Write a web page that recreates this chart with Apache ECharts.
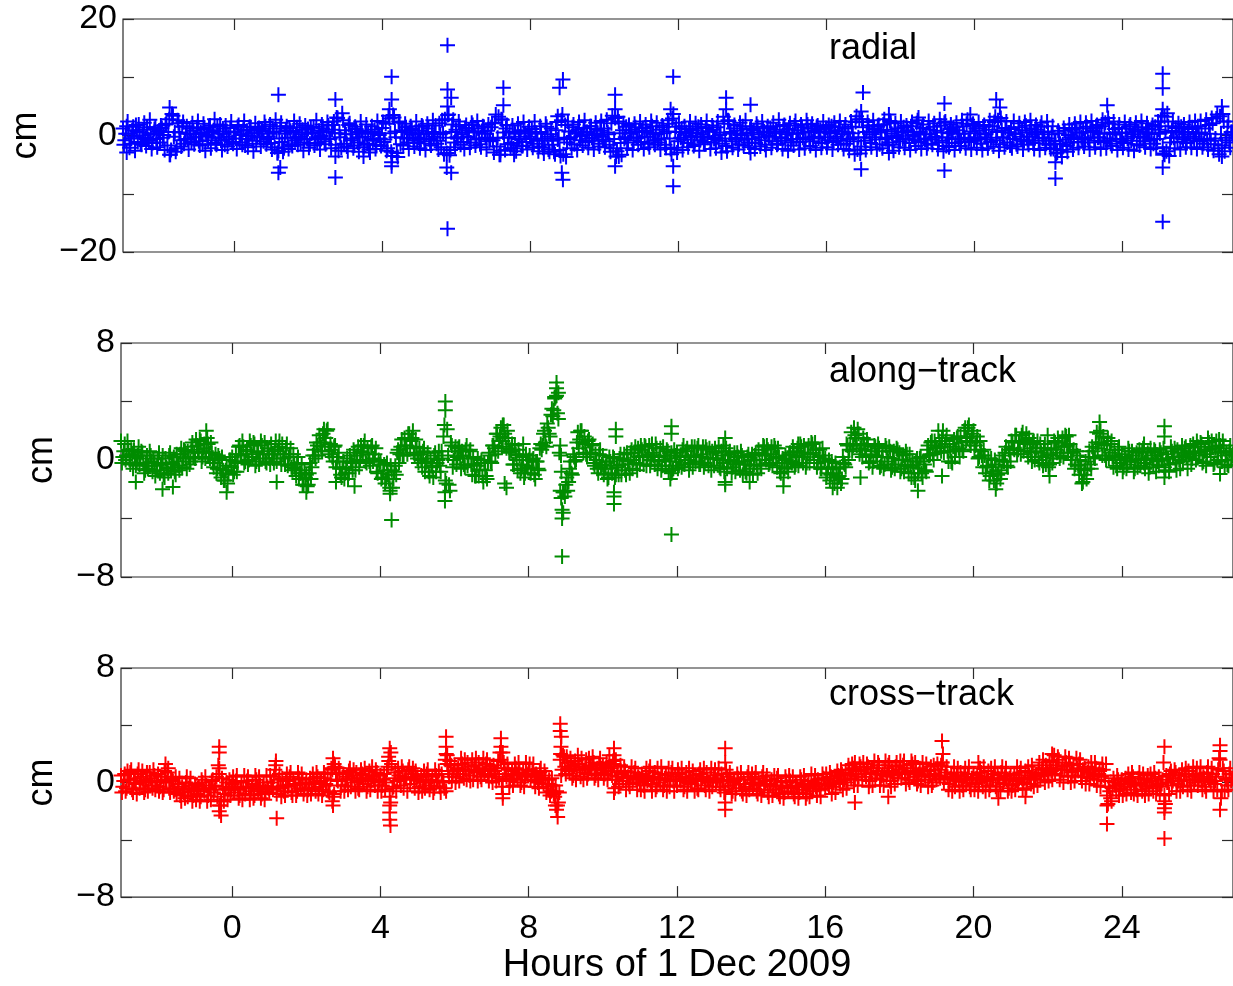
<!DOCTYPE html>
<html>
<head>
<meta charset="utf-8">
<title>Orbit differences, 1 Dec 2009</title>
<script src="https://cdn.jsdelivr.net/npm/echarts@6/dist/echarts.min.js"></script>
<style>
  html, body { margin: 0; padding: 0; background: #ffffff; }
  #chart { width: 1233px; height: 986px; }
</style>
</head>
<body>
<div id="chart"></div>
<script>
// Orbit differences in cm. Each component is stored as two interleaved streams:
// on-step epochs (startHour + i*stepHour) and half-step epochs (+ stepHour/2).
const startHour = -3;
const stepHour = 0.05;

const radialCm = [
  1.2,-0.8,1.6,0.3,-1.4,0.9,-0.2,1.8,-1.1,0.5,-1.6,1.0,-0.4,1.4,-0.9,0.2,-1.3,1.1,-0.6,0.7,
  -1.2,1.3,0.1,1.9,-1.7,2.8,-2.5,3.4,0.6,-2.2,2.1,-0.8,1.5,-1.4,0.3,-0.6,1.2,-1.1,0.8,-0.3,
  1.4,-1.0,0.5,-1.5,1.1,0.2,-0.8,1.7,-0.4,0.9,-1.3,1.6,0.3,-0.9,1.2,-1.6,0.7,-0.2,1.3,-1.1,
  0.6,-0.5,1.5,-1.2,0.2,1.0,-1.7,0.8,-0.1,1.4,-0.9,0.4,-1.4,1.1,-0.3,0.9,-1.0,1.6,-0.6,0.3,
  -1.3,1.2,-2.0,0.7,-2.6,1.6,-1.1,-2.2,0.9,-0.4,1.3,-1.5,0.6,-0.8,1.4,-0.2,-1.2,1.0,-0.7,0.5,
  1.1,-1.4,0.3,1.5,-0.6,-1.3,0.8,-0.1,1.2,-1.0,0.6,1.7,-0.5,1.0,2.4,-1.6,3.0,0.4,-2.1,2.6,
  0.9,-1.9,1.8,-0.8,0.2,-1.7,1.1,-1.2,-0.3,0.8,-2.0,0.4,-1.4,-2.4,0.6,-0.9,1.0,-1.6,0.3,-0.5,
  1.3,-1.1,2.0,-2.2,2.9,-2.8,3.5,0.7,-3.0,2.4,-1.5,0.9,-0.4,1.4,-1.2,0.5,1.1,-0.8,0.2,-1.3,
  0.8,-0.6,1.5,-1.0,0.3,1.2,-1.4,0.6,-0.2,1.7,-0.9,2.1,-2.0,0.4,2.8,-3.0,3.6,-2.5,1.9,-1.2,
  1.0,-0.5,1.6,0.2,-1.1,1.3,-0.3,0.9,-1.2,1.8,0.5,-0.7,1.2,-1.5,0.7,1.5,-0.4,0.8,-1.0,1.4,
  -0.8,2.2,-1.9,3.2,-2.6,2.7,-0.4,1.2,-1.5,0.6,-1.3,-2.2,0.3,-1.7,-0.6,0.9,-1.8,0.4,-1.1,0.7,
  -0.2,1.1,-1.4,0.5,-0.9,-1.9,0.6,-2.1,-0.5,1.5,-2.4,0.2,-1.6,-2.8,0.9,-0.7,-2.5,2.6,-3.2,1.8,
  -1.2,0.7,-0.3,1.4,-1.5,0.4,1.0,-0.8,0.2,1.3,-1.1,0.6,-0.5,1.6,-0.9,0.1,1.1,-1.4,0.8,-0.2,
  1.2,-1.0,0.5,-1.6,2.1,-2.2,3.0,-2.7,2.4,-1.3,0.9,-0.6,1.5,-1.2,0.3,1.0,-0.8,1.4,-0.4,0.6,
  -1.1,1.3,-0.2,0.8,-1.4,0.5,1.6,-0.9,0.2,-1.2,1.0,-0.5,1.4,-1.6,0.7,2.0,-2.3,2.9,-2.1,1.5,
  -1.0,0.6,1.2,-0.7,0.3,-1.3,1.1,-0.1,0.9,-1.5,0.4,1.5,-0.8,0.2,-1.1,1.3,-0.4,0.7,-1.2,1.0,
  -0.3,1.4,-0.9,0.5,-1.4,2.0,-1.8,2.6,0.3,-1.0,1.2,-0.6,0.8,-1.5,0.1,1.6,-0.7,0.4,-1.2,1.1,
  -0.5,0.9,-1.3,1.5,0.2,-0.8,1.2,-1.6,0.6,-0.2,1.3,-1.0,0.4,1.0,-1.4,0.7,-0.3,1.6,-0.9,0.5,
  1.1,-1.2,0.3,1.7,-0.6,0.9,-1.1,1.4,0.5,-0.7,1.9,-0.4,1.2,-1.0,0.8,1.5,-0.5,1.0,-1.3,0.6,
  1.3,-0.8,0.4,1.6,-1.1,0.9,-0.2,1.4,-0.9,0.7,1.2,-1.4,0.5,-0.6,1.5,-1.0,2.3,-2.4,2.8,-1.9,
  1.4,-0.9,0.6,1.7,-1.3,0.2,1.1,-0.7,1.5,-1.5,0.8,1.9,-0.4,1.0,-1.2,2.2,-1.6,0.7,-0.3,1.2,
  -1.0,0.5,1.4,-0.6,0.9,-1.3,1.6,0.1,-0.8,2.1,-1.1,0.6,1.3,-0.5,0.2,-1.4,1.0,-0.7,1.5,-0.2,
  0.8,-1.2,1.7,-0.9,2.2,-1.8,0.4,1.1,-0.6,1.4,-1.3,0.9,0.3,-1.0,1.6,-0.4,2.0,-1.1,0.7,1.8,
  -0.9,1.2,-0.3,0.8,-1.4,1.5,0.2,-0.7,1.0,-1.1,1.6,2.3,-0.8,2.6,-1.5,0.9,-0.4,1.3,-1.2,0.5,
  1.1,-0.6,0.3,-1.5,1.4,-0.2,0.9,-1.0,1.7,-0.8,0.5,1.2,-1.3,0.2,1.0,-0.9,1.5,-0.5,0.6,-1.4,
  0.7,-1.6,0.2,-2.3,-1.0,-2.9,0.4,-2.5,-1.5,0.8,-1.8,0.1,-1.2,1.0,-0.6,1.3,-1.1,0.5,-0.3,1.2,
  -0.7,1.5,-1.2,0.6,0.9,-0.9,1.3,-0.4,0.3,1.6,-1.1,2.2,-0.8,2.0,-1.4,0.5,1.1,-0.6,1.3,-1.0,
  0.4,-1.3,1.2,-0.5,1.6,-0.9,0.2,1.0,-1.5,0.7,-0.2,1.4,-1.0,0.5,1.1,-0.8,0.3,-1.4,1.5,-0.6,
  1.0,2.4,-2.0,3.2,-2.7,1.6,-1.2,0.8,-0.4,1.3,-1.1,0.6,1.5,-0.7,0.2,-1.3,1.1,-0.5,1.4,-0.9,
  0.5,1.6,-1.0,0.3,-1.4,1.2,-0.6,1.8,-0.9,2.1,-1.5,2.9,-2.2,3.3,-1.7,2.4,-0.8,1.5,-1.2,0.6,
  0.2
];

const radialCmHalfStep = [
  -1.6,0.3,2.4,-2.1,-0.5,1.5,-2.6,0.7,1.9,-1.3,0.0,2.2,-1.8,-0.6,2.7,-2.3,0.4,1.4,-2.0,0.8,
  1.7,-0.4,-2.5,2.0,0.6,-3.3,3.7,-0.2,-2.8,2.6,0.5,-1.9,2.3,-0.7,1.6,-2.4,0.2,2.1,-1.5,-0.3,
  2.5,-1.7,0.4,2.0,-2.6,-0.1,1.4,-2.2,0.6,2.8,-1.6,-0.4,1.9,-2.5,0.3,1.7,-1.9,-0.7,2.4,-1.4,
  0.5,-2.3,1.8,0.1,-1.6,2.5,-0.6,-2.0,1.5,0.4,-2.7,2.1,-0.3,1.3,-1.9,0.7,2.3,-1.5,-0.2,1.9,
  -2.4,0.6,2.7,-3.0,-0.5,2.2,-2.8,0.3,1.6,-2.3,0.8,-1.8,2.5,-0.4,-1.6,2.0,0.2,-2.6,1.7,-0.6,
  -2.1,1.4,0.5,-1.7,2.6,-0.3,-2.4,1.9,0.7,-1.5,2.3,-0.6,-2.2,1.8,0.4,3.1,-2.6,-0.3,3.8,-1.4,
  0.2,-2.7,2.1,-0.5,-2.2,1.5,0.6,-2.8,2.4,-0.2,-1.6,1.9,0.3,-2.9,1.6,-0.6,-2.3,2.5,0.1,-1.8,
  2.3,-0.7,-2.6,3.4,0.4,-3.5,3.1,-0.3,-3.7,2.2,0.6,-1.7,2.0,-0.5,-2.3,1.6,0.2,-1.9,2.4,-0.4,
  -2.2,1.7,0.3,-2.5,2.0,-0.6,-1.7,2.6,0.5,-1.4,-2.4,0.2,2.6,-3.2,-0.4,3.5,-3.4,0.6,2.7,-2.0,
  -0.3,2.4,-1.6,0.5,-2.3,1.8,-0.2,-2.1,2.2,0.7,-1.7,2.5,-0.5,-2.0,1.6,0.3,-2.4,1.9,-0.6,2.1,
  -2.9,3.6,-0.4,-3.3,2.8,0.5,-2.5,1.8,-0.3,-2.2,1.7,0.6,-2.7,2.0,-0.2,-1.8,2.3,0.4,-2.4,1.5,
  -0.6,-2.1,2.4,0.3,-2.7,1.6,-0.8,-3.1,2.0,-0.2,-2.8,1.2,-0.9,-3.2,2.3,-0.5,-3.5,3.6,-0.4,-3.7,
  2.4,-0.6,-2.2,1.9,0.4,-2.5,2.3,-0.1,-1.7,2.6,0.6,-2.1,1.6,-0.4,-2.4,2.2,0.3,-1.9,2.5,-0.7,
  -2.0,2.7,0.2,-2.8,3.4,-0.6,-3.6,3.2,0.4,-3.3,2.1,-0.3,-2.2,1.8,0.5,-2.5,2.0,-0.4,-1.6,2.4,
  0.6,-2.3,1.9,-0.2,-2.0,2.5,0.3,-1.6,2.2,-0.7,-2.4,1.7,0.4,-2.1,2.6,-0.5,-3.2,3.7,0.6,-2.9,
  2.2,-0.4,-2.5,1.6,0.6,-2.0,2.4,-0.3,-1.8,2.1,0.5,-2.6,1.9,-0.2,-1.5,2.5,0.7,-2.3,1.7,-0.6,
  -2.2,2.4,0.1,-2.9,3.2,-0.5,-2.7,2.5,0.6,-2.1,1.8,-0.4,-2.4,2.2,0.3,-1.7,2.6,-0.6,-2.0,1.5,
  0.5,-2.3,2.0,-0.3,-1.9,2.4,0.7,-2.5,1.6,-0.1,-2.1,2.2,0.4,-1.6,2.7,-0.5,-2.3,1.8,0.2,-2.6,
  2.1,-0.6,-1.7,2.5,0.3,-2.4,1.9,-0.4,-2.2,2.6,0.6,-1.8,2.0,-0.2,-2.5,1.7,0.5,-2.1,2.4,-0.3,
  -2.0,1.8,0.6,-2.4,2.2,-0.5,-1.6,2.5,0.2,-2.3,1.9,-0.6,-2.6,2.4,0.4,-3.2,3.3,-0.3,-3.1,2.8,
  -0.4,-2.5,2.3,0.7,-2.0,2.6,-0.3,-2.4,1.8,0.5,-2.2,2.8,-0.6,-1.7,2.5,0.3,-2.6,2.1,-0.1,-2.0,
  2.4,-0.5,-2.1,1.7,0.6,-2.5,2.3,-0.2,-1.8,2.6,0.4,-2.3,1.9,-0.7,-2.2,2.5,0.2,-1.6,2.1,-0.4,
  -2.3,2.8,0.5,-2.7,2.4,-0.3,-2.0,1.9,0.6,-2.5,2.2,-0.5,-1.8,2.6,0.3,-2.2,2.7,-0.6,-2.4,2.0,
  0.4,-2.1,2.3,-0.6,-2.5,1.8,0.2,-2.2,2.6,-0.4,-1.9,3.2,0.6,-2.6,3.0,-0.3,-2.0,2.4,0.5,-1.7,
  -2.2,2.5,0.3,-1.9,2.1,-0.7,-2.4,2.3,0.5,-1.6,2.6,-0.2,-2.3,1.8,0.6,-2.5,2.2,-0.4,-2.1,2.4,
  -0.5,-2.3,1.6,-0.9,-3.1,0.8,-1.4,-3.7,1.3,-0.7,-2.8,1.9,-0.3,-2.4,2.0,0.5,-2.1,2.3,-0.6,-1.9,
  2.2,-0.4,-2.4,2.5,0.6,-2.0,1.8,-0.3,-2.3,2.7,0.4,-2.2,3.0,-0.5,-1.8,2.4,0.2,-2.5,1.9,-0.6,
  -2.1,2.3,0.5,-2.4,1.9,-0.2,-2.6,2.2,0.7,-1.7,2.5,-0.4,-2.0,2.1,0.3,-2.3,1.8,-0.6,-2.2,2.4,
  0.3,3.4,-3.1,0.6,3.8,-3.5,-0.4,2.4,-2.2,0.5,2.1,-2.4,-0.3,1.9,-2.0,0.6,2.3,-2.1,-0.2,2.5,
  -2.3,0.4,2.5,-2.0,-0.6,2.7,-2.4,0.3,3.0,-2.6,-0.5,3.6,-3.2,0.2,3.7,-2.7,-0.4,2.4,-2.1,0.6
];

const alongTrackCm = [
  1.3,0.2,1.1,0.3,0.7,-0.3,0.4,0.7,-0.4,0.3,-0.3,0.6,-0.2,-0.7,0.3,-0.4,0.3,-0.8,-0.2,-0.7,
  0.1,-0.9,-0.2,-1.0,0.1,-0.6,0.3,-0.7,-0.3,-0.8,0.4,-0.4,0.4,-0.5,0.7,0.1,0.6,-0.3,0.9,0.2,
  0.1,1.0,0.5,1.3,0.2,1.1,0.6,1.1,0.1,0.5,-0.5,0.4,-0.6,0.1,-1.2,-0.7,-1.4,-0.4,-0.9,0.0,
  0.2,-0.8,0.4,-0.2,1.0,0.3,0.9,-0.1,0.7,0.0,1.0,0.2,1.1,-0.1,0.6,0.1,1.0,0.4,-0.1,0.8,
  0.1,1.1,0.1,0.7,-0.1,0.9,0.4,1.1,0.1,0.8,-0.4,0.4,-0.5,0.4,-0.6,-0.2,-1.3,-0.9,-1.7,-0.7,
  -1.0,-1.7,-0.2,-0.5,0.7,0.1,1.0,1.7,0.9,1.8,1.2,2.0,0.6,1.1,0.2,0.9,-0.5,0.2,-0.6,-1.2,
  -0.1,-0.9,0.1,-0.9,-0.1,-0.7,0.5,0.0,0.9,0.0,0.6,1.0,-0.1,0.8,-0.1,0.9,-0.1,0.4,-0.8,0.0,
  -0.1,-1.2,-0.3,-1.3,-1.0,-1.9,-0.7,-1.3,-0.4,0.5,-0.2,0.9,0.3,1.5,1.0,1.8,0.8,1.5,0.5,1.4,
  0.1,0.8,0.0,0.6,-0.8,-0.1,-0.8,0.1,-0.5,0.3,-0.8,0.0,-0.4,0.6,1.6,-1.4,2.1,-1.7,1.2,-0.5,
  0.6,-0.3,0.8,0.1,0.6,-0.3,0.7,-0.4,0.6,-0.3,0.2,-1.1,-0.4,-1.1,-0.2,-1.1,-0.2,-1.1,-0.2,0.3,
  -0.2,1.0,0.4,1.8,1.3,2.2,1.3,1.8,0.8,1.5,0.7,1.1,-0.3,0.4,-0.7,0.3,-0.6,0.2,-0.9,-0.4,
  0.0,-0.9,0.0,-1.0,-0.1,-0.6,0.8,0.7,1.8,1.2,2.5,1.8,3.1,3.0,4.2,4.4,2.8,-2.1,-3.4,-2.2,
  -1.7,-2.1,-0.6,-0.9,0.4,-0.1,1.2,0.8,2.0,1.2,1.6,0.4,1.3,0.5,1.0,-0.2,0.4,-0.6,0.4,-0.5,
  0.3,-0.6,-0.1,-1.2,-0.1,-0.9,0.1,-1.0,-0.4,0.1,-1.0,0.0,-0.7,0.5,-0.3,0.5,-0.6,0.5,-0.2,0.8,
  -0.3,0.7,-0.3,0.9,0.2,1.0,0.0,0.5,-0.3,0.8,-0.1,0.8,-0.4,0.3,-0.4,0.6,-0.1,0.5,-0.6,0.3,
  0.5,-0.4,0.2,0.7,-0.3,0.6,0.0,-0.2,0.9,0.3,-0.1,0.8,-0.3,0.4,0.9,-0.2,0.7,-0.4,0.1,0.6,
  -0.4,0.5,0.1,-0.5,0.6,-0.2,0.3,-0.6,0.4,0.0,-0.5,0.5,-0.3,0.2,-0.7,0.3,-0.1,-0.8,0.2,-0.6,
  0.0,-1.0,0.3,-0.3,0.7,-0.4,0.4,0.9,0.0,0.7,-0.2,0.9,0.1,0.8,-0.5,0.2,-0.9,0.1,-0.6,0.0,
  -0.8,0.5,-0.2,0.6,-0.3,0.8,0.2,0.9,-0.2,0.5,-0.2,1.0,0.4,1.1,0.0,0.7,-0.2,0.7,-0.6,0.3,
  0.1,-0.9,0.0,-1.0,-0.6,-1.6,-0.6,-1.2,-0.5,-1.3,-0.2,-0.5,1.0,0.7,1.9,1.0,1.7,1.0,1.8,0.8,
  0.2,1.1,0.3,1.1,-0.1,0.6,-0.1,0.9,0.2,0.8,-0.4,0.6,-0.3,0.8,-0.1,0.6,-0.5,0.6,-0.3,0.7,
  0.5,-0.6,0.3,-0.4,0.4,-0.9,-0.4,-0.1,-1.2,-0.1,-0.9,0.1,-0.9,-0.1,-0.7,0.7,0.3,1.2,0.4,1.3,
  0.8,2.0,0.9,1.5,0.5,1.3,0.6,1.1,-0.1,0.9,0.2,1.5,0.8,1.6,0.7,2.0,1.3,2.2,1.3,1.8,
  2.0,1.0,1.6,0.2,0.6,-0.5,0.3,-0.5,0.1,-1.1,-0.5,-1.4,-0.3,-1.0,0.0,-0.9,-0.1,0.5,-0.4,0.7,
  -0.1,1.2,0.7,1.7,0.7,1.3,1.7,0.6,1.4,0.6,1.5,0.5,1.2,0.0,0.8,0.0,1.1,0.2,0.8,-0.3,
  0.8,-0.3,0.7,0.1,1.2,0.5,1.2,0.3,1.5,0.9,1.6,0.5,1.1,0.0,0.7,-0.3,0.3,-1.0,-0.6,-1.5,
  -0.7,-1.3,0.2,-0.3,0.9,0.2,1.2,0.8,1.8,1.1,1.6,0.3,1.1,0.1,1.1,0.2,0.7,-0.4,0.7,-0.2,
  0.4,-0.5,0.2,-0.3,0.6,-0.1,0.3,-0.6,0.5,0.0,-0.4,0.6,-0.2,0.1,0.5,-0.5,0.3,-0.3,0.6,-0.1,
  -0.4,0.5,0.0,-0.5,0.4,0.1,-0.3,0.6,0.2,-0.2,0.7,0.0,0.5,-0.1,0.8,0.2,0.4,1.0,0.1,0.6,
  0.0,0.9,0.3,1.1,-0.1,0.7,0.4,1.2,0.2,0.9,-0.2,1.3,0.5,1.0,-0.1,0.8,0.3,-0.3,0.6,0.0,
  0.4
];

const alongTrackCmHalfStep = [
  -0.2,0.6,0.0,1.3,0.3,0.7,-0.6,0.2,-0.2,0.9,0.1,0.5,-0.9,-0.2,-0.6,0.6,-0.1,0.1,-1.1,-0.4,
  0.5,-0.3,0.3,-1.2,-0.5,-0.9,0.5,-0.2,0.2,-1.0,-0.1,-0.7,0.8,0.1,0.6,-0.6,0.2,-0.1,1.2,0.5,
  1.4,0.7,1.4,-0.1,0.8,0.1,1.5,0.5,1.2,-0.2,0.0,-0.9,0.3,-0.6,0.2,-1.4,-0.7,-1.6,0.0,-0.5,
  -1.0,-0.1,-0.8,0.9,0.4,1.3,-0.2,0.6,-0.3,1.3,0.4,1.2,-0.4,0.5,-0.3,1.3,0.4,1.2,-0.2,0.6,
  -0.3,0.4,-0.2,1.3,0.6,1.3,-0.3,0.4,-0.3,1.1,0.2,0.8,-0.7,-0.3,-1.1,0.2,-0.9,-0.3,-1.7,-1.2,
  -1.8,-0.9,-1.3,0.3,0.3,1.2,0.3,1.2,0.6,2.1,1.5,2.1,0.4,0.7,-0.1,1.0,-0.1,0.5,-1.0,-0.6,
  -1.3,-0.5,-1.3,0.3,-0.2,0.7,-0.7,0.3,-0.5,1.0,0.5,1.3,-0.2,0.4,-0.4,1.0,0.1,0.8,-0.9,-0.3,
  -1.3,-0.7,-1.6,-0.2,-1.3,-0.4,-1.9,-0.8,-1.0,0.7,0.4,1.4,0.3,1.0,0.4,1.8,1.3,2.0,0.3,0.9,
  -0.2,0.4,-0.5,0.8,-0.2,0.5,-1.1,-0.4,-1.2,0.5,-0.2,0.6,-0.8,0.1,2.4,-1.6,0.3,-2.1,1.0,0.0,
  0.9,0.2,0.9,-0.6,0.3,-0.5,1.0,0.1,0.7,-1.0,-0.3,-1.1,0.1,-0.7,0.0,-1.5,-0.7,-1.3,0.5,-0.1,
  1.0,0.8,1.8,0.6,1.6,0.9,2.4,1.5,2.0,0.5,0.6,-0.3,1.0,0.0,0.7,-0.9,-0.3,-1.2,0.4,-0.5,
  0.3,-0.6,0.1,-1.3,-0.1,-0.7,1.1,1.0,2.0,0.9,2.2,1.6,3.5,3.4,4.3,3.2,0.5,-2.6,-2.2,-2.5,
  -1.2,-1.5,-0.1,-1.0,0.2,0.0,1.9,1.4,2.0,0.5,1.1,0.2,1.4,0.5,1.1,-0.4,0.0,-0.9,0.7,-0.3,
  -1.0,-0.4,-1.3,0.2,-0.6,0.2,-1.2,-0.5,-1.0,0.4,-0.3,0.4,-1.0,-0.1,-0.9,0.7,0.0,0.9,-0.7,0.2,
  1.0,0.3,1.0,-0.4,0.4,-0.4,1.1,0.3,1.1,-0.6,0.2,-0.7,0.9,0.0,0.7,-0.8,0.1,-0.7,0.7,-0.1,
  -0.6,0.2,-0.5,1.0,0.3,0.8,-0.7,0.2,-0.5,0.9,0.3,1.0,-0.3,0.2,-0.5,0.9,0.1,0.8,-0.7,0.1,
  0.8,0.1,0.9,-0.6,0.0,-0.8,0.8,0.0,0.6,-0.9,-0.1,-0.8,0.5,-0.2,0.6,-1.0,-0.3,-0.9,0.4,-0.4,
  0.4,-0.3,0.5,-0.9,0.0,-0.6,1.0,0.3,1.0,-0.3,0.4,-0.4,1.0,0.2,0.8,-0.8,-0.2,-1.2,0.3,-0.5,
  0.4,-0.1,0.9,-0.5,0.3,-0.4,1.1,0.2,1.0,-0.5,0.4,-0.2,1.2,0.5,1.2,-0.5,0.2,-0.6,0.8,-0.1,
  -1.2,-0.5,-1.4,-0.1,-0.9,-0.2,-1.9,-1.1,-1.6,0.2,-0.3,1.1,0.0,1.1,0.6,2.2,1.5,2.1,0.4,1.0,
  1.5,0.7,1.4,-0.2,0.4,-0.5,1.0,0.3,1.1,-0.5,0.2,-0.6,1.0,0.2,0.9,-0.7,0.1,-0.6,0.8,0.0,
  -0.8,0.0,-0.8,0.6,-0.3,0.4,-1.2,-0.5,-1.4,0.1,-0.6,0.2,-1.2,-0.3,-0.8,1.0,0.4,1.3,0.0,1.0,
  0.5,1.3,0.6,2.0,1.1,1.7,-0.1,0.6,-0.2,1.4,0.7,1.6,0.2,1.2,0.6,2.2,1.5,2.4,1.0,1.6,
  0.7,1.2,0.1,1.3,0.3,0.7,-0.9,-0.4,-1.4,0.1,-0.8,0.0,-1.6,-0.7,-1.3,0.3,-0.1,0.9,-0.5,0.5,
  1.3,0.8,1.7,0.4,1.2,0.4,1.9,1.1,1.8,0.2,0.8,-0.1,1.3,0.6,1.3,-0.2,0.5,-0.4,1.1,0.3,
  -0.5,0.4,-0.2,1.3,0.7,1.5,0.1,0.9,0.2,1.7,1.0,1.7,0.0,0.5,-0.6,0.6,-0.4,0.0,-1.6,-1.0,
  -0.1,-0.6,0.6,-0.6,0.6,0.1,1.9,1.2,2.0,0.3,1.0,0.0,1.5,0.5,1.3,-0.5,0.3,-0.6,0.9,0.0,
  -0.8,0.1,-0.6,0.8,-0.1,0.6,-0.8,0.0,-0.5,0.7,0.1,0.8,-0.6,0.0,-0.9,0.8,0.1,0.7,-0.8,0.0,
  0.7,0.0,0.8,-0.7,0.1,-0.8,0.9,0.2,0.8,-0.7,0.2,-0.6,1.0,0.3,0.9,-0.6,0.4,-0.3,1.1,0.5,
  1.3,0.5,1.2,-0.2,0.6,-0.4,1.5,0.7,1.3,-0.3,0.8,0.0,1.4,0.6,1.3,-0.5,0.5,-0.4,1.0,0.3
];

const crossTrackCm = [
  0.5,-0.3,0.6,-0.4,0.2,0.7,-0.5,0.3,-0.1,0.6,-0.4,0.4,0.0,-0.5,0.7,-0.2,0.3,-0.4,0.5,0.1,
  0.6,-0.3,0.4,-0.5,0.2,0.7,-0.4,0.3,0.1,-0.5,-0.8,-0.1,-0.9,-0.3,-0.7,0.0,-1.0,-0.2,-0.6,-0.9,
  -0.1,-0.8,-0.3,-1.0,0.0,-0.6,-0.2,-0.9,-0.4,0.1,-0.7,-0.2,-1.0,0.6,-1.3,-0.3,-0.8,0.0,-0.5,-0.9,
  -0.1,-0.7,0.1,-0.5,-0.9,0.0,-0.4,-0.8,0.1,-0.3,-0.6,-0.1,-0.9,0.2,-0.5,-0.2,-0.8,0.0,-0.6,-0.3,
  -0.7,0.0,-0.5,0.9,-0.8,0.2,-0.4,0.3,-0.6,0.1,-0.3,0.4,-0.7,0.2,-0.2,-0.6,0.3,-0.4,0.0,-0.5,
  0.2,-0.5,0.3,-0.4,0.0,-0.6,0.4,-0.3,0.1,-0.5,0.3,-0.2,-0.6,0.2,0.9,-0.8,0.6,0.1,0.7,-0.2,
  0.6,-0.2,0.4,0.8,-0.3,0.5,0.0,0.7,-0.4,0.3,0.6,-0.1,0.5,-0.3,0.8,0.1,0.4,-0.2,0.7,0.0,
  0.5,-0.2,0.6,0.0,1.1,-1.0,1.3,-0.3,0.7,0.1,0.5,-0.2,0.8,0.2,0.4,0.9,-0.1,0.6,0.3,0.8,
  0.4,-0.3,0.5,0.0,-0.4,0.6,0.2,-0.2,0.4,-0.4,0.5,0.1,-0.3,0.6,0.0,1.6,1.3,0.4,1.2,0.6,
  1.2,0.4,1.0,0.6,1.3,0.3,0.9,1.4,0.5,1.1,0.2,1.2,0.7,1.4,0.4,1.0,0.6,1.3,0.5,1.1,
  0.4,1.2,0.6,1.0,0.3,1.6,0.2,1.0,0.4,0.9,0.1,0.8,0.3,1.0,0.2,0.7,0.0,0.9,0.4,0.6,
  0.9,0.2,0.8,0.1,0.6,0.0,0.7,0.3,-0.1,0.5,-0.3,0.2,-0.6,-0.2,-1.0,-0.6,-1.4,1.6,0.9,1.8,
  0.6,1.4,0.8,1.2,0.5,1.5,0.9,1.3,0.4,1.1,0.7,1.6,0.6,1.2,0.9,1.4,0.5,1.0,1.3,0.7,
  1.2,0.6,1.4,0.8,1.1,0.5,1.3,0.2,0.7,-0.1,0.6,0.1,0.8,0.3,-0.1,0.5,0.0,0.7,0.2,0.4,
  0.0,0.6,-0.2,0.5,0.1,0.8,-0.1,0.4,0.7,-0.3,0.3,0.0,0.6,-0.2,0.5,0.2,-0.3,0.7,0.1,0.4,
  -0.2,0.6,0.1,0.4,-0.3,0.7,0.0,0.3,-0.1,0.5,0.2,-0.4,0.6,0.1,0.4,-0.2,0.7,0.0,0.3,-0.3,
  0.5,0.0,0.3,-0.3,0.6,0.1,-0.5,0.4,-0.2,0.2,-0.6,0.1,-0.4,0.3,-0.1,-0.6,0.2,-0.3,0.4,-0.5,
  0.2,-0.4,0.3,-0.6,0.0,-0.2,0.4,-0.5,0.1,-0.7,-0.1,0.2,-0.5,-0.2,0.3,-0.8,0.0,-0.4,-0.7,0.1,
  -0.6,0.1,-0.4,-0.8,0.0,-0.3,-0.7,0.2,-0.5,-0.1,-0.8,0.1,-0.4,-0.6,0.0,-0.3,0.2,-0.5,-0.1,0.3,
  -0.4,0.2,-0.2,0.4,-0.3,0.3,0.0,0.5,-0.1,0.6,0.2,0.7,0.0,0.9,0.3,1.0,0.2,0.8,0.4,1.1,
  0.2,0.9,0.4,1.1,0.1,0.7,1.0,0.3,0.8,1.2,0.2,0.6,1.0,0.4,1.2,0.1,0.8,0.5,1.1,0.3,
  0.9,0.3,1.2,0.6,1.0,0.2,0.8,1.3,0.4,0.7,0.1,1.0,0.5,0.9,0.2,0.8,0.4,1.1,0.0,0.6,
  0.2,0.9,0.3,1.4,0.0,0.7,0.4,-0.1,0.6,0.2,-0.3,0.5,0.1,0.7,-0.2,0.4,0.0,0.6,-0.3,0.3,
  0.6,-0.1,0.5,0.0,0.7,-0.3,0.4,0.1,0.8,-0.2,0.3,0.6,-0.3,0.5,0.0,0.7,-0.1,0.4,0.2,-0.4,
  0.5,-0.2,0.6,0.1,-0.1,0.7,0.3,0.0,0.8,0.2,0.5,-0.1,0.7,0.3,0.6,0.9,0.2,1.0,0.5,1.2,
  0.7,1.5,0.8,1.4,0.6,1.2,1.6,0.5,1.1,0.9,1.4,0.4,1.2,0.7,1.3,0.5,1.0,1.3,0.4,0.9,
  1.0,0.4,1.1,0.3,0.9,0.5,1.0,0.2,0.8,0.4,0.9,0.1,-0.9,-0.3,-1.1,-0.4,0.0,-0.6,0.2,-0.4,
  0.2,-0.5,0.3,-0.3,0.1,-0.7,0.4,-0.1,-0.5,0.3,0.0,-0.6,0.2,-0.3,0.5,-0.4,0.1,-0.6,0.3,-0.2,
  0.4,-0.3,0.2,-0.9,0.5,0.0,0.6,-0.2,0.3,0.7,-0.1,0.5,0.1,-0.3,0.6,0.2,0.8,-0.2,0.4,0.0,
  0.5,-0.2,0.6,0.1,0.4,-0.3,0.7,0.2,0.0,0.6,-0.1,0.4,0.9,1.6,-0.6,0.8,0.3,-0.2,0.6,0.1,
  0.3
];

const crossTrackCmHalfStep = [
  -0.7,0.1,-0.6,0.8,0.2,0.9,-0.7,0.0,-0.8,0.9,0.1,0.8,-0.7,0.2,-0.6,0.7,0.0,0.9,-0.5,0.1,
  -0.6,0.1,-0.7,0.8,0.0,1.0,-0.7,0.2,-0.6,0.4,-0.4,0.3,-1.3,-0.5,-1.1,0.4,-0.4,0.3,-1.3,-0.5,
  -1.2,-0.4,-1.3,0.2,-0.5,0.4,-1.3,-0.4,-1.2,0.2,-0.5,0.4,1.2,-1.6,0.3,-1.3,-0.4,-1.2,0.2,-0.5,
  0.4,-0.3,0.5,-1.1,-0.4,-1.2,0.5,-0.3,0.4,-1.2,-0.4,-1.1,0.5,-0.3,0.4,-1.1,-0.3,-1.2,0.5,-0.4,
  0.5,-0.3,0.4,1.2,-0.3,0.6,-1.0,-0.2,-0.9,0.6,-0.2,0.7,-0.9,-0.1,-0.9,0.7,-0.1,0.6,-0.8,-0.1,
  -0.9,-0.1,-0.8,0.6,-0.1,0.7,-0.8,0.0,-0.9,0.7,-0.1,0.6,-0.7,1.0,-1.0,1.1,0.2,1.0,-0.6,0.2,
  -0.6,0.2,-0.5,1.0,0.3,0.9,-0.6,0.1,-0.5,0.9,0.2,1.0,-0.6,0.3,-0.5,1.1,0.2,0.9,-0.6,0.1,
  -0.6,0.2,-0.5,0.9,1.5,-1.4,-0.4,0.3,-0.6,1.0,0.2,1.1,-0.4,0.3,-0.6,1.1,0.3,1.0,-0.4,0.2,
  -0.7,0.1,-0.6,0.8,0.2,0.9,-0.5,0.0,-0.7,0.9,0.1,0.8,-0.7,0.1,-0.4,2.0,0.8,1.5,0.1,0.8,
  0.0,0.9,0.1,1.7,0.8,1.6,0.2,0.9,0.1,1.6,0.8,1.7,0.1,0.9,0.2,1.7,0.8,1.6,0.1,0.9,
  0.0,0.8,0.1,1.5,2.1,-0.3,1.4,0.6,1.3,-0.3,0.5,-0.2,1.3,0.6,1.4,-0.2,0.5,-0.3,1.4,0.5,
  1.3,0.5,1.3,-0.3,0.4,-0.4,1.0,0.2,0.8,-0.7,-0.1,-0.9,0.3,-0.8,-0.2,-1.6,-0.7,0.5,1.9,1.1,
  1.8,1.0,1.7,0.3,1.1,0.2,1.9,0.9,1.7,0.2,1.0,0.3,1.7,1.1,1.8,0.3,0.9,0.2,1.7,1.0,
  0.3,1.0,0.2,1.9,1.0,1.5,-0.4,0.4,-0.3,1.2,0.3,1.1,-0.5,0.4,-0.3,1.1,0.3,1.0,-0.5,0.3,
  -0.5,0.3,-0.6,1.0,0.2,1.1,-0.6,0.3,-0.5,1.0,0.2,1.1,-0.5,0.3,-0.6,1.0,0.2,1.0,-0.6,0.2,
  0.9,0.2,1.0,-0.5,0.3,-0.6,1.0,0.1,0.8,-0.6,0.2,-0.5,0.9,0.3,1.0,-0.5,0.2,-0.6,1.0,0.1,
  0.9,0.2,1.0,-0.5,0.1,-0.7,0.9,0.1,0.7,-0.8,0.0,-0.8,0.6,-0.1,0.7,-0.8,-0.1,-0.9,0.7,0.0,
  0.6,-0.1,0.7,-0.8,-0.2,-0.9,0.7,-0.1,0.5,-1.0,-0.2,-0.9,0.5,-0.3,0.5,-1.0,-0.2,-1.1,0.4,-0.3,
  0.5,-0.3,0.4,-1.0,-0.2,-1.1,0.4,-0.3,0.5,-1.1,-0.2,-1.0,0.6,-0.2,0.5,-0.9,-0.1,-1.0,0.6,-0.1,
  0.6,-0.1,0.7,-0.8,0.0,-0.7,0.8,0.1,0.9,-0.5,0.2,-0.4,1.2,0.5,1.3,-0.2,0.6,-0.2,1.3,0.6,
  1.4,0.6,1.3,-0.3,0.7,-0.2,1.5,0.6,1.4,-0.2,0.5,-0.2,1.5,0.7,1.4,-0.3,0.6,-0.1,1.4,0.6,
  1.5,0.7,1.5,-0.1,0.6,0.0,1.5,0.7,1.4,-0.1,0.6,-0.2,1.4,0.5,1.3,-0.3,0.5,-0.2,1.2,0.5,
  1.3,0.5,1.2,2.0,0.4,1.1,-0.5,0.3,-0.6,1.1,0.2,1.0,-0.6,0.3,-0.5,1.0,0.2,1.1,-0.5,0.3,
  -0.5,0.3,-0.6,1.0,0.2,1.1,-0.6,0.3,-0.5,1.0,0.2,1.1,-0.5,0.3,-0.6,1.1,0.2,1.0,-0.6,0.3,
  -0.6,0.2,-0.5,1.1,0.3,1.0,-0.5,0.3,-0.4,1.1,0.3,1.2,-0.3,0.4,-0.2,1.4,0.6,1.6,0.0,0.9,
  0.1,1.0,0.2,1.9,1.0,1.8,0.2,0.9,0.0,1.8,0.9,1.7,0.0,0.8,0.1,1.7,0.8,1.6,0.1,0.8,
  -0.1,0.7,-0.1,1.4,0.6,1.4,-0.2,0.6,-0.3,1.3,0.5,1.3,-1.5,-0.6,-1.3,0.3,-0.2,0.5,-0.9,-0.1,
  -0.9,-0.1,-0.8,0.6,0.0,0.7,-0.8,-0.2,-0.9,0.7,-0.1,0.6,-0.9,0.0,-0.8,0.6,-0.2,0.7,-0.8,-0.1,
  -0.8,-0.1,1.4,-1.5,0.0,-0.8,0.8,0.1,0.9,-0.6,0.1,-0.6,0.9,0.2,1.0,-0.5,0.2,-0.6,1.1,0.2,
  1.0,0.2,1.1,-0.5,0.3,-0.6,1.1,0.2,1.0,-0.6,0.1,-0.5,1.7,-1.1,1.0,-0.6,0.2,-0.5,1.0,0.3
];

// Isolated epochs away from the main band: [hour, cm]
const radialOutliers = [
  [-2.9,-2.9],[-1.74,4.8],[-1.74,-3.3],[1.2,7.0],[1.25,-5.5],[1.2,-6.4],[1.18,-3.0],
  [2.74,6.2],[2.74,-7.2],[2.74,-3.6],[3.5,-3.6],[4.26,10.1],[4.26,6.2],[4.2,4.5],
  [4.26,-4.6],[4.26,-5.3],[5.77,15.5],[5.77,7.9],[5.87,6.5],[5.77,5.0],[5.75,-5.5],
  [5.87,-6.4],[5.77,-16.0],[7.28,8.2],[7.28,5.2],[7.57,-3.3],[7.2,-3.3],[8.89,9.6],
  [8.8,8.2],[8.86,-6.4],[8.89,-7.6],[8.75,3.3],[10.3,7.0],[10.3,4.5],[10.3,-5.3],
  [10.4,-3.6],[11.87,10.1],[11.8,4.5],[11.87,-5.3],[11.87,-8.7],[13.3,6.5],[13.3,4.5],
  [13.96,5.3],[13.96,-3.0],[17.0,7.4],[16.95,4.1],[16.95,-5.8],[17.7,3.6],[17.7,-3.0],
  [18.5,3.1],[19.2,5.5],[19.2,-6.0],[19.9,3.6],[20.6,6.2],[20.7,4.8],[22.2,-4.6],
  [22.2,-7.4],[23.6,5.2],[25.1,10.6],[25.1,8.1],[25.1,4.5],[25.15,-3.3],[25.1,-5.5],
  [25.1,-14.8],[26.7,5.0],[26.7,-3.6]
];

const alongTrackOutliers = [
  [-2.6,-1.5],[-1.88,-2.0],[-1.6,-1.85],[-0.7,2.0],[-0.15,-2.2],[1.2,-1.5],[2.0,-2.2],
  [2.8,-1.5],[3.3,-1.8],[4.26,-2.3],[4.26,-2.1],[4.3,-4.1],[5.75,4.0],[5.75,3.4],
  [5.74,-2.2],[5.74,-2.8],[7.3,2.4],[7.35,-1.6],[7.4,-1.9],[7.85,1.1],[8.75,5.3],
  [8.75,4.9],[8.8,4.6],[8.7,4.3],[8.85,1.0],[8.87,0.3],[8.88,-0.8],[8.9,-4.0],
  [8.93,-3.6],[8.9,-6.6],[10.35,2.1],[10.35,1.6],[10.3,-2.2],[10.3,-2.5],[10.3,-3.0],
  [11.85,2.3],[11.85,1.8],[11.85,-0.9],[11.82,-1.3],[11.85,-5.1],[13.3,1.5],[13.25,1.0],
  [13.3,-1.5],[13.3,-1.7],[13.96,-1.5],[14.87,-1.8],[15.27,1.1],[16.2,-1.9],[16.95,-1.2],
  [18.5,-2.1],[19.15,-1.1],[20.6,-2.0],[22.0,1.7],[22.05,-1.1],[23.4,2.6],[24.6,1.1],
  [25.15,2.3],[25.15,1.6],[25.15,-1.2],[26.65,-0.95]
];

const crossTrackOutliers = [
  [-1.8,1.3],[-0.35,2.5],[-0.35,2.1],[-0.35,1.0],[-0.35,-2.0],[-0.3,-2.3],[-0.35,-1.6],
  [1.18,1.5],[1.2,-2.5],[2.72,1.7],[2.75,1.3],[2.7,-1.3],[2.72,-1.6],[4.25,2.4],
  [4.22,1.8],[4.28,2.1],[4.25,-1.6],[4.25,-2.1],[4.25,-2.6],[4.27,-3.0],[5.77,3.2],
  [5.77,2.5],[5.8,1.9],[5.77,-0.6],[7.25,3.1],[7.25,2.5],[7.3,2.1],[7.3,-0.8],[7.3,-1.1],
  [8.75,-1.9],[8.78,-2.4],[8.72,-1.6],[8.85,4.1],[8.85,3.6],[8.88,3.2],[8.87,2.5],
  [8.86,2.0],[10.3,2.4],[10.3,1.9],[10.35,1.6],[10.3,-0.7],[13.3,2.4],[13.3,1.4],
  [13.3,-1.9],[13.3,-1.4],[16.8,1.4],[16.8,-1.4],[17.7,-1.0],[19.15,2.9],[19.15,1.4],
  [20.13,1.4],[20.67,-1.1],[21.4,-1.0],[22.12,2.0],[23.6,-2.9],[23.6,-1.6],[25.15,2.5],
  [25.15,-1.3],[25.15,-1.8],[25.15,-2.1],[25.15,-3.9],[26.65,2.6],[26.65,2.2],[26.65,-1.9]
];

// Axis ticks and labels
const hourTicks = [0, 4, 8, 12, 16, 20, 24];
const radialTicks = [-20, -10, 0, 10, 20];
const radialLabels = [-20, 0, 20];
const trackTicks = [-8, -4, 0, 4, 8];
const trackLabels = [-8, 0, 8];
const panelTitles = ['radial', 'along\u2212track', 'cross\u2212track'];
const xTitle = 'Hours of 1 Dec 2009';
const yTitle = 'cm';

const FONT = '"Liberation Sans", Arimo, Arial, Helvetica, sans-serif';
const FRAME = '#2b2b2b';
// "+" marker drawn as two filled bars in a 15 x 15 box
const PLUS = 'path://M0,6.5H15V8.5H0Z M6.5,0H8.5V15H6.5Z';

const panels = [
  { title: panelTitles[0], color: '#0000ff', values: radialCm, halfStep: radialCmHalfStep, outliers: radialOutliers,
    min: -20, max: 20, ticks: radialTicks, labels: radialLabels, top: 19, height: 233, nameGap: 79, titleY: 49.5 },
  { title: panelTitles[1], color: '#008c00', values: alongTrackCm, halfStep: alongTrackCmHalfStep, outliers: alongTrackOutliers,
    min: -8, max: 8, ticks: trackTicks, labels: trackLabels, top: 343, height: 234, nameGap: 61, titleY: 372.5 },
  { title: panelTitles[2], color: '#ff0000', values: crossTrackCm, halfStep: crossTrackCmHalfStep, outliers: crossTrackOutliers,
    min: -8, max: 8, ticks: trackTicks, labels: trackLabels, top: 668, height: 232, nameGap: 61, titleY: 695.5 }
];

const toEpochs = (vals, offset) => vals.map((v, i) => [+(startHour + offset + i * stepHour).toFixed(3), v]);
const minusSign = v => String(v).replace('-', '\u2212');

const tickStyle = { show: true, inside: true, length: 11, lineStyle: { color: FRAME, width: 1.2 } };
const labelFont = { fontSize: 34, color: '#000', fontFamily: FONT };

const grid = panels.map(p => ({
  left: 121, top: p.top, width: 1117, height: p.height,
  show: true, borderColor: FRAME, borderWidth: 1.2, backgroundColor: 'transparent'
}));

const xAxis = [];
const yAxis = [];
panels.forEach((p, i) => {
  const last = i === panels.length - 1;
  xAxis.push({
    type: 'value', gridIndex: i, position: 'bottom', min: -3, max: 27,
    axisLine: { show: false, onZero: false }, splitLine: { show: false },
    axisTick: Object.assign({ customValues: hourTicks }, tickStyle),
    axisLabel: Object.assign({ show: last, customValues: hourTicks, margin: 15, formatter: minusSign }, labelFont),
    name: last ? xTitle : '', nameLocation: 'middle', nameGap: 43,
    nameTextStyle: { fontSize: 38, color: '#000', fontFamily: FONT }
  });
  yAxis.push({
    type: 'value', gridIndex: i, position: 'left', min: p.min, max: p.max,
    axisLine: { show: false, onZero: false }, splitLine: { show: false },
    axisTick: Object.assign({ customValues: p.ticks }, tickStyle),
    axisLabel: Object.assign({ customValues: p.labels, margin: 6, formatter: minusSign }, labelFont),
    name: yTitle, nameLocation: 'middle', nameGap: p.nameGap,
    nameTextStyle: { fontSize: 36, color: '#000', fontFamily: FONT }
  });
});
// mirrored ticks on the top and right edges of each box
panels.forEach((p, i) => {
  xAxis.push({
    type: 'value', gridIndex: i, position: 'top', min: -3, max: 27,
    axisLine: { show: false, onZero: false }, splitLine: { show: false },
    axisTick: Object.assign({ customValues: hourTicks }, tickStyle),
    axisLabel: { show: false }
  });
  yAxis.push({
    type: 'value', gridIndex: i, position: 'right', min: p.min, max: p.max,
    axisLine: { show: false, onZero: false }, splitLine: { show: false },
    axisTick: Object.assign({ customValues: p.ticks }, tickStyle),
    axisLabel: { show: false }
  });
});

const series = [];
panels.forEach((p, i) => {
  const common = {
    type: 'scatter', xAxisIndex: i, yAxisIndex: i, symbol: PLUS, symbolSize: 15,
    itemStyle: { color: p.color, opacity: 1 }, clip: false, silent: true, large: false
  };
  const band = toEpochs(p.values, 0).concat(toEpochs(p.halfStep, stepHour / 2));
  series.push(Object.assign({ name: p.title, data: band }, common));
  series.push(Object.assign({ name: p.title + ' isolated', data: p.outliers }, common));
});

const graphic = panels.map(p => ({
  type: 'text', x: 829, y: p.titleY, silent: true,
  style: {
    text: p.title, fill: '#000', font: '36px ' + FONT,
    align: 'left', verticalAlign: 'middle', textAlign: 'left', textVerticalAlign: 'middle'
  }
}));

const chart = echarts.init(document.getElementById('chart'), null, { renderer: 'canvas' });
chart.setOption({
  backgroundColor: '#ffffff',
  animation: false,
  grid, xAxis, yAxis, series, graphic
});
</script>
</body>
</html>
